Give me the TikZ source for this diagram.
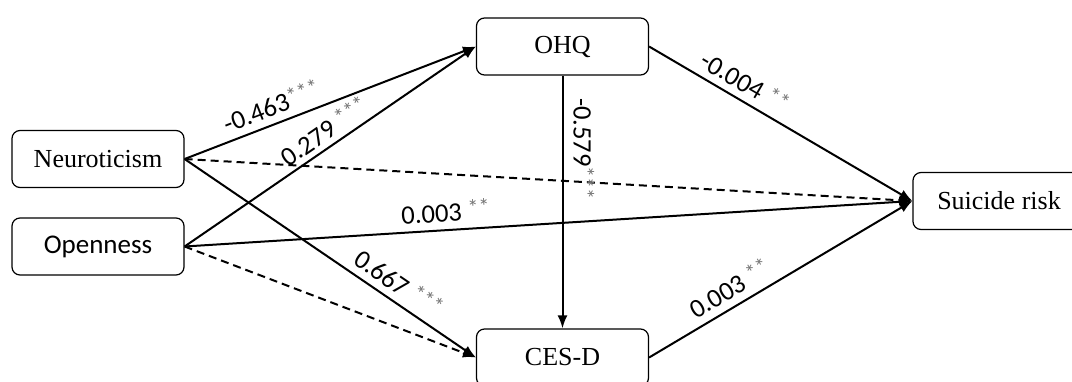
\documentclass[tikz,border=0pt]{standalone}
\usepackage{fontspec}
\setmainfont{Liberation Serif}
\newfontfamily\calfont{Carlito}
\usetikzlibrary{arrows.meta}
\newcommand{\sig}[1]{\raisebox{2.5pt}{\color{black!55}\fontsize{11}{10}\selectfont #1}}

\begin{document}
\begin{tikzpicture}[x=0.5pt, y=-0.5pt, line join=round,
    box/.style={draw, rounded corners=4pt, minimum width=86pt, minimum height=28.5pt,
      inner sep=0pt, line width=0.6pt, font=\fontsize{13}{15}\selectfont},
    effect/.style={line width=1pt, -{Latex[length=6.5pt,width=5pt]}},
    nseffect/.style={effect, dash pattern=on 4pt off 2.5pt},
    coef/.style={sloped, above, inner sep=3.5pt, font=\calfont\fontsize{13.3}{15}\selectfont}]

    \useasboundingbox (0,0) rectangle (1072,381);
    \clip (0,0) rectangle (1072,381);

    \node[box] (neuro) at (98,159) {Neuroticism};
    \node[box, font=\calfont\fontsize{13.5}{15}\selectfont] (open) at (98,246.5) {Openness};
    \node[box] (ohq) at (562.5,46.5) {OHQ};
    \node[box] (cesd) at (562.5,357.5) {CES-D};
    \node[box] (risk) at (999,201) {Suicide risk};

    \draw[effect] (neuro.east) -- (ohq.west) node[coef, pos=0.32] {-0.463\sig{***}};
    \draw[effect] (open.east) -- (ohq.west) node[coef, pos=0.51, inner sep=2.5pt] {0.279 \sig{***}};
    \draw[nseffect] (neuro.east) -- (risk.west);
    \draw[effect] (open.east) -- (risk.west) node[coef, pos=0.36] {0.003 \sig{**}};
    \draw[effect] (neuro.east) -- (cesd.west) node[coef, pos=0.7] {0.667 \sig{***}};
    \draw[nseffect] (open.east) -- (cesd.west);

    \draw[effect] (ohq.south) -- (cesd.north) node[coef, pos=0.29, inner sep=5pt] {-0.579\sig{***}};
    \draw[effect] (ohq.east) -- (risk.west) node[coef, pos=0.33] {-0.004 \sig{**}};
    \draw[effect] (cesd.east) -- (risk.west) node[coef, pos=0.34] {0.003 \sig{**}};

\end{tikzpicture}
\end{document}
